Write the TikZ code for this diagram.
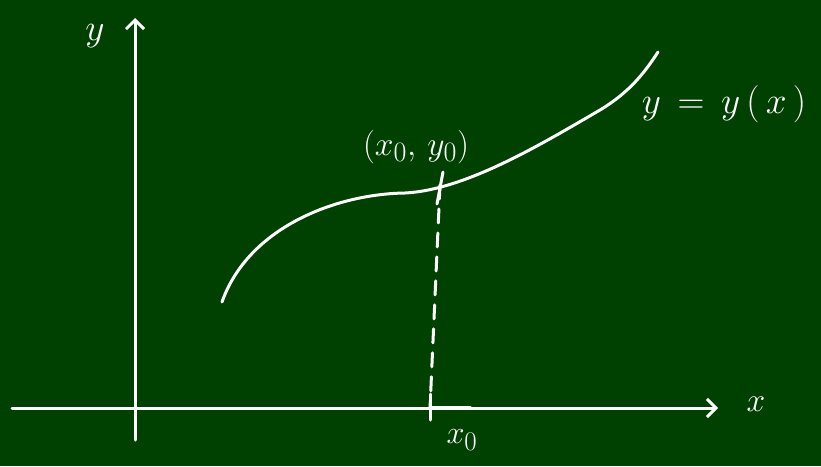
\documentclass[tikz,border=0pt]{standalone}
\usetikzlibrary{arrows.meta}
\definecolor{board}{RGB}{0,64,0}
\begin{document}
\begin{tikzpicture}[x=1pt,y=-1pt,
  chalk/.style={white,line width=3pt,line cap=round,line join=round},
  lbl/.style={white,font=\Huge},
  arr/.style={-{Straight Barb[length=9pt,width=18pt,line width=3pt]}}]
\fill[board] (0,0) rectangle (821,466);
\useasboundingbox (0,0) rectangle (821,466);
% axes
\coordinate (yb) at (135,440);
\coordinate (yt) at (135,18);
\coordinate (xl) at (12,408);
\coordinate (xr) at (718,408);
\draw[chalk,arr] (yb) -- (yt);
\draw[chalk,arr] (xl) -- (xr);
\node[lbl,scale=1.5] (ylab) at (95,36) {$y$};
\node[lbl,scale=1.35] (xlab) at (756,404) {$x$};
% curve
\coordinate (c0) at (222,302);
\coordinate (c1) at (405,193);
\coordinate (c2) at (600,110);
\coordinate (c3) at (658,52);
\draw[chalk] (c0) .. controls (248,228) and (335,194) .. (c1)
  .. controls (465,190) and (540,145) .. (c2)
  .. controls (630,92) and (645,72) .. (c3);
\node[lbl,scale=1.5] (curvelab) at (724,104) {$y\,=\,y\,(\,x\,)$};
% point
\coordinate (p) at (440,185);
\coordinate (x0) at (430,408);
\draw[chalk] (443,172) -- (437,204);
\draw[chalk,dashed,dash pattern=on 14pt off 10pt] (p) -- (x0);
\draw[chalk] (430,394) -- (430,420);
\draw[chalk,line width=3.8pt] (430,408) -- (470,408);
\node[lbl,scale=1.35] (plab) at (416,147) {$(x_0,\,y_0)$};
\node[lbl,scale=1.3] (x0lab) at (462,440) {$x_0$};
\end{tikzpicture}
\end{document}
